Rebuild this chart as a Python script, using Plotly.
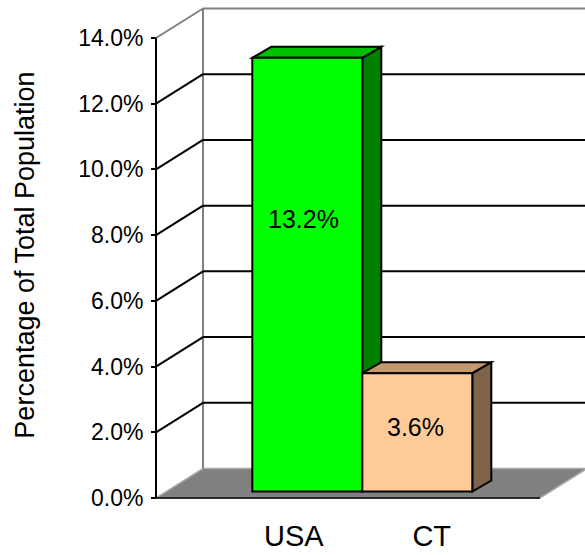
import plotly.graph_objects as go

# ---- data -------------------------------------------------------------
categories = ["USA", "CT"]
values = [13.2, 3.6]                      # percent of total population
tick_values = [0, 2, 4, 6, 8, 10, 12, 14]
tick_text = [f"{t:.1f}%" for t in tick_values]

# ---- styling ----------------------------------------------------------
front_colors = ["#00FF00", "#FFCC99"]
top_colors = ["#00C000", "#C49A6C"]
side_colors = ["#007F00", "#806449"]
FONT = "Arial, Liberation Sans, sans-serif"

# ---- frame / projection ------------------------------------------------
W, H = 585, 555
PLOT_W, PLOT_H = 585, 510
Y_PX = 460 / 14          # pixels per percentage point
X_PX = 110               # pixels per category slot
y_zero_px = 498          # baseline of the front plane, from top
x_zero_px = 307.3        # first category centre, from left

x_range = [-x_zero_px / X_PX, (PLOT_W - x_zero_px) / X_PX]
y_range = [-(PLOT_H - y_zero_px) / Y_PX, y_zero_px / Y_PX]

# oblique depth of the walls and of the bars
wall_dx, wall_dy = 47 / X_PX, 29.5 / Y_PX
bar_dx, bar_dy = 19 / X_PX, 11 / Y_PX
bar_base = 6.5 / Y_PX                      # bars stand in the middle of the floor
axis_x = (156 - x_zero_px) / X_PX          # front vertical axis
floor_right = (540 - x_zero_px) / X_PX     # right end of the floor front edge
y_max = tick_values[-1]

shapes = []


def poly(points, fill, line_color="black", width=2):
    path = "M " + " L ".join(f"{px},{py}" for px, py in points) + " Z"
    return dict(type="path", path=path, xref="x", yref="y", layer="below",
                fillcolor=fill, line=dict(color=line_color, width=width))


def seg(x0, y0, x1, y1, color, width=2):
    return dict(type="line", x0=x0, y0=y0, x1=x1, y1=y1, xref="x", yref="y",
                layer="below", line=dict(color=color, width=width))


# floor
shapes.append(poly([(axis_x, 0), (floor_right, 0),
                    (floor_right + wall_dx, wall_dy), (axis_x + wall_dx, wall_dy)],
                   "#808080", "#A8A8A8", 1.5))
# back wall edge
shapes.append(seg(axis_x + wall_dx, wall_dy, axis_x + wall_dx, y_max + wall_dy, "#808080"))
# gridlines: diagonal on the side wall + horizontal on the back wall
for t in tick_values[1:]:
    c = "#808080" if t == y_max else "black"
    shapes.append(seg(axis_x, t, axis_x + wall_dx, t + wall_dy, c))
    shapes.append(seg(axis_x + wall_dx, t + wall_dy, x_range[1] + 1, t + wall_dy, c))
# floor front edge and the value axis line
shapes.append(seg(axis_x, 0, floor_right, 0, "black", 1.5))
shapes.append(seg(axis_x, 0, axis_x, y_max, "black", 2))

# top and side faces of each bar
for i, v in enumerate(values):
    left, right = i - 0.5, i + 0.5
    top = bar_base + v
    shapes.append(poly([(right, bar_base), (right, top),
                        (right + bar_dx, top + bar_dy), (right + bar_dx, bar_base + bar_dy)],
                       side_colors[i]))
    shapes.append(poly([(left, top), (right, top),
                        (right + bar_dx, top + bar_dy), (left + bar_dx, top + bar_dy)],
                       top_colors[i]))

fig = go.Figure()
fig.add_trace(go.Bar(
    x=list(range(len(categories))), y=values, base=bar_base, width=1,
    marker=dict(color=front_colors, line=dict(color="black", width=2)),
    hoverinfo="skip", showlegend=False,
))

# value labels on the bar fronts
value_label_pos = [(-0.033, 8.5), (0.98, 2.16)]
annotations = [
    dict(x=px, y=py, xref="x", yref="y", text=f"{v:.1f}%", showarrow=False,
         font=dict(family=FONT, size=25, color="black"))
    for (px, py), v in zip(value_label_pos, values)
]

category_label_x = [-0.123, 1.131]

fig.update_layout(
    width=W, height=H,
    margin=dict(l=0, r=0, t=0, b=H - PLOT_H, pad=0),
    paper_bgcolor="white", plot_bgcolor="rgba(0,0,0,0)",
    shapes=shapes, annotations=annotations,
    font=dict(family=FONT, color="black"),
    xaxis=dict(range=x_range, tickvals=category_label_x, ticktext=categories,
               ticks="", showgrid=False, zeroline=False, showline=False,
               tickfont=dict(size=29), ticklabelstandoff=6, fixedrange=True),
    yaxis=dict(range=y_range, anchor="free", position=156 / PLOT_W,
               tickvals=tick_values, ticktext=tick_text,
               ticks="outside", ticklen=5, tickwidth=2, tickcolor="black",
               showgrid=False, zeroline=False, showline=False,
               tickfont=dict(size=23), ticklabelstandoff=3,
               title=dict(text="Percentage of Total Population",
                          font=dict(size=27), standoff=34),
               fixedrange=True),
)

fig.write_html("out.html")
